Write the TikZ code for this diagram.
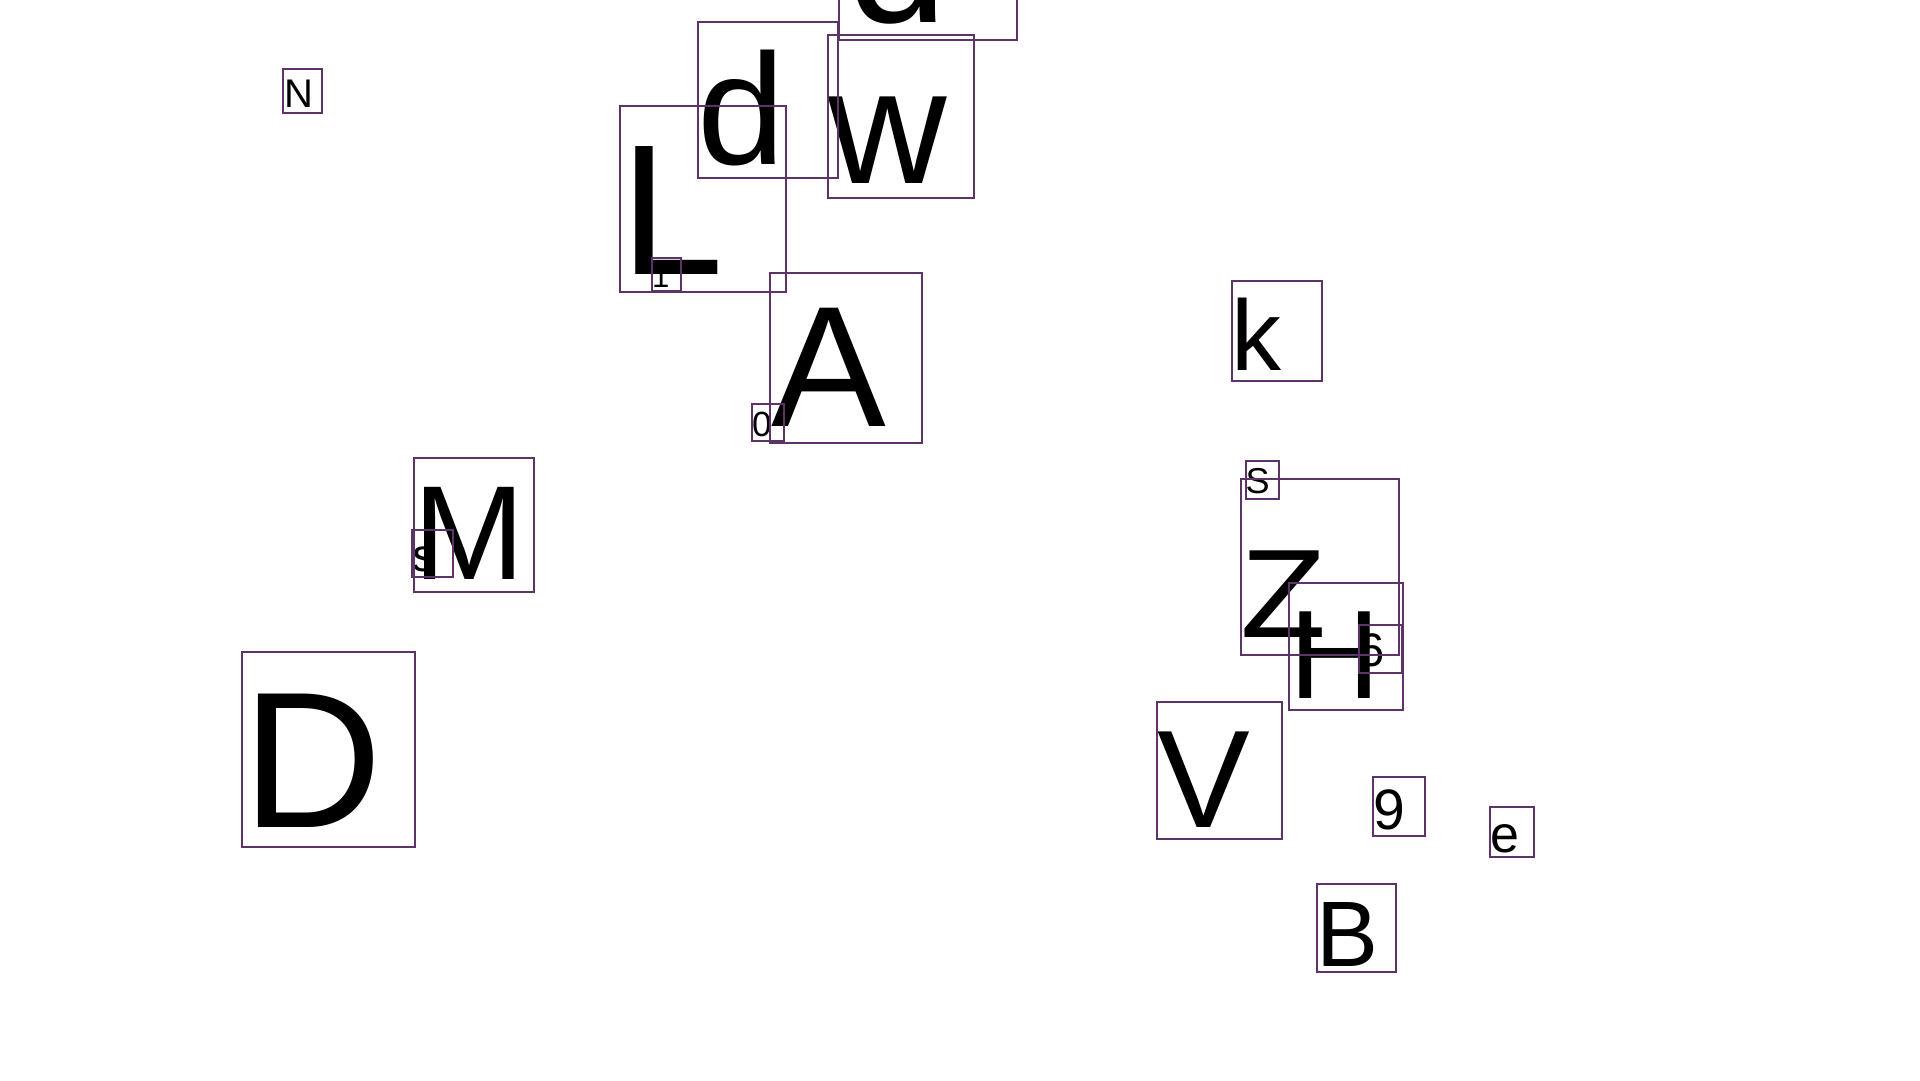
\documentclass[tikz,border=0pt]{standalone}
\usepackage{graphicx}
\usepackage{fontspec}
\setmainfont{Liberation Sans}
\definecolor{boxline}{RGB}{92,52,104}
\newcommand{\fsz}[1]{\fontsize{#1}{#1}\selectfont}
\tikzset{
  glyph/.style={inner sep=0pt, outer sep=0pt, anchor=base west, text=black, font=\fsz{#1}},
  frame/.style={draw=boxline, line width=1.1pt}
}
\begin{document}
\begin{tikzpicture}[x=1pt,y=-1pt]
\useasboundingbox (0,0) rectangle (1920,1080);
\clip (0,0) rectangle (1920,1080);
\fill[white] (0,0) rectangle (1920,1080);
% texts
\node[glyph=40]  (tN) at (284,107) {N};
\node[glyph=134] (tM) at (413,579) {M};
\node[glyph=46]  (ts) at (412.5,571) {s};
\node[glyph=194] (tD) at (242,827) {D};
\node[glyph=100] (tk) at (1231,370) {k};
\node[glyph=139] (tV) at (1157,827) {V};
\node[glyph=57]  (t9) at (1373,829) {9};
\node[glyph=93]  (tB) at (1316,966) {B};
\node[glyph=52]  (te) at (1490,852) {e};
\node[glyph=172] (tA) at (771,426) {A};
\node[glyph=35]  (t0) at (752,436) {0};
\node[glyph=186] (tL) at (620,274) {L};
\node[glyph=31]  (t1) at (652,287) {1};
\node[glyph=158] (td) at (697,164) {d};
\node[glyph=164] (tw) at (828,183) {w};
\node[glyph=180] (td2) at (847,22) {d};
\node[glyph=36]  (tS) at (1245.5,493) {S};
\node[glyph=126] (tZ) at (1240.5,637) {\scalebox{1.12}[1]{Z}};
\node[glyph=47]  (t6) at (1358,666) {6};
\node[glyph=126] (tH) at (1289,698) {H};
% frames
\draw[frame] (283,69) rectangle (322,113);
\draw[frame] (414,458) rectangle (534,592);
\draw[frame] (412,530) rectangle (453,577);
\draw[frame] (242,652) rectangle (415,847);
\draw[frame] (1232,281) rectangle (1322,381);
\draw[frame] (1157,702) rectangle (1282,839);
\draw[frame] (1373,777) rectangle (1425,836);
\draw[frame] (1317,884) rectangle (1396,972);
\draw[frame] (1490,807) rectangle (1534,857);
\draw[frame] (770,273) rectangle (922,443);
\draw[frame] (752,404) rectangle (784,441);
\draw[frame] (620,106) rectangle (786,292);
\draw[frame] (652,258) rectangle (681,291);
\draw[frame] (698,22) rectangle (838,178);
\draw[frame] (828,35) rectangle (974,198);
\draw[frame] (839,-140) rectangle (1017,40);
\draw[frame] (1246,461) rectangle (1279,499);
\draw[frame] (1241,479) rectangle (1399,655);
\draw[frame] (1289,583) rectangle (1403,710);
\draw[frame] (1359,625) rectangle (1402,673);
\end{tikzpicture}
\end{document}
